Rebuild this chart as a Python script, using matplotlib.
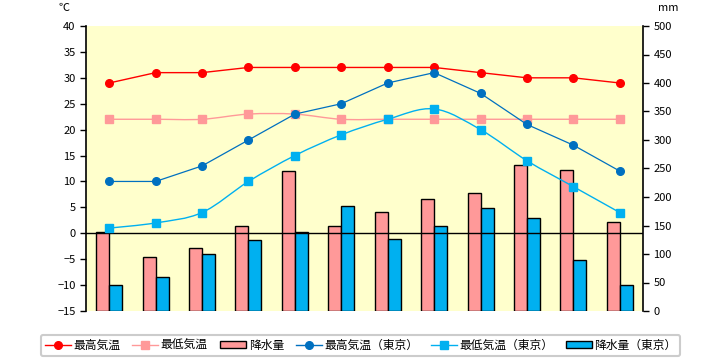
import matplotlib
matplotlib.use("Agg")
import matplotlib.pyplot as plt
import numpy as np
from matplotlib.path import Path
from matplotlib.patches import PathPatch, Patch
from matplotlib.lines import Line2D

plt.rcParams['font.family'] = ['Noto Sans CJK JP', 'DejaVu Sans']

months = ['1月', '2月', '3月', '4月', '5月', '6月', '7月', '8月', '9月', '10月', '11月', '12月']
high = [29, 31, 31, 32, 32, 32, 32, 32, 31, 30, 30, 29]
low = [22, 22, 22, 23, 23, 22, 22, 22, 22, 22, 22, 22]
rain = [138, 94, 110, 150, 245, 150, 173, 196, 207, 256, 247, 157]
tokyo_high = [10, 10, 13, 18, 23, 25, 29, 31, 27, 21, 17, 12]
tokyo_low = [1, 2, 4, 10, 15, 19, 22, 24, 20, 14, 9, 4]
tokyo_rain = [45, 59, 100, 124, 139, 185, 126, 149, 180, 164, 89, 45]

labels = ['最高気温', '最低気温', '降水量', '最高気温（東京）', '最低気温（東京）', '降水量（東京）']

C_RED = '#FF0000'
C_PINK = '#FF9999'
C_DBLUE = '#0070C0'
C_LBLUE = '#00B0F0'
BG = '#FFFFCC'

fig = plt.figure(figsize=(7.2, 3.6), dpi=100)
ax2 = fig.add_axes([86/720, 49/360, 557/720, 285/360])
ax = ax2.twinx()
ax.yaxis.tick_left()
ax2.yaxis.tick_right()
ax.set_zorder(ax2.get_zorder() + 1)
ax.patch.set_visible(False)
ax2.set_facecolor(BG)

x = np.arange(len(months))
w = 0.28
ax2.bar(x - w/2, rain, width=w, color=C_PINK, edgecolor='black', linewidth=1.0, zorder=2)
ax2.bar(x + w/2, tokyo_rain, width=w, color=C_LBLUE, edgecolor='black', linewidth=1.0, zorder=2)
ax2.set_ylim(0, 500)
ax2.set_yticks(np.arange(0, 501, 50))
ax2.set_xlim(-0.5, len(months) - 0.5)

ax.set_ylim(-15, 40)
ax.set_yticks(np.arange(-15, 41, 5))
ax.set_xlim(-0.5, len(months) - 0.5)
ax.axhline(0, color='black', linewidth=1.0, zorder=3)


def smooth_path(xs, ys, t=1/6):
    xs = np.asarray(xs, float)
    ys = np.asarray(ys, float)
    pts = np.column_stack([xs, ys])
    n = len(pts)
    verts = [pts[0]]
    codes = [Path.MOVETO]
    for i in range(n - 1):
        p0 = pts[i - 1] if i > 0 else pts[i]
        p1 = pts[i]
        p2 = pts[i + 1]
        p3 = pts[i + 2] if i + 2 < n else pts[i + 1]
        c1 = p1 + (p2 - p0) * t
        c2 = p2 - (p3 - p1) * t
        verts += [c1, c2, p2]
        codes += [Path.CURVE4] * 3
    return Path(verts, codes)


ax.plot(x, high, color=C_RED, linewidth=1.0, marker='o', markersize=5.5, zorder=5)
ax.add_patch(PathPatch(smooth_path(x, low), facecolor='none', edgecolor=C_PINK, linewidth=1.0, zorder=4))
ax.plot(x, low, linestyle='none', color=C_PINK, marker='s', markersize=5.5, zorder=5)
ax.plot(x, tokyo_high, color=C_DBLUE, linewidth=0.9, marker='o', markersize=5.5, zorder=5)
ax.add_patch(PathPatch(smooth_path(x, tokyo_low), facecolor='none', edgecolor=C_LBLUE, linewidth=1.0, zorder=4))
ax.plot(x, tokyo_low, linestyle='none', color=C_LBLUE, marker='s', markersize=5.5, zorder=5)

ax.set_xticks(x)
ax.set_xticklabels(months)
for a in (ax, ax2):
    for s in ('top', 'bottom'):
        a.spines[s].set_visible(False)
ax2.spines['left'].set_visible(False)
ax2.spines['right'].set_visible(False)
ax.spines['left'].set_linewidth(1.2)
ax.spines['right'].set_linewidth(1.2)
ax.tick_params(axis='y', direction='out', length=4, width=1, labelsize=8)
ax2.tick_params(axis='y', direction='out', length=4, width=1, labelsize=8)
ax.tick_params(axis='x', length=0, labelsize=8, pad=6)
ax2.tick_params(axis='x', length=0, labelbottom=False)

fig.text(58/720, 1 - 8/360, '℃', fontsize=8, ha='left', va='center')
fig.text(668/720, 1 - 8/360, 'mm', fontsize=8, ha='center', va='center')

handles = [
    Line2D([], [], color=C_RED, marker='o', markersize=5.5, linewidth=1.0),
    Line2D([], [], color=C_PINK, marker='s', markersize=5.5, linewidth=1.0),
    Patch(facecolor=C_PINK, edgecolor='black', linewidth=1.0),
    Line2D([], [], color=C_DBLUE, marker='o', markersize=5.5, linewidth=1.0),
    Line2D([], [], color=C_LBLUE, marker='s', markersize=5.5, linewidth=1.0),
    Patch(facecolor=C_LBLUE, edgecolor='black', linewidth=1.0),
]
leg = fig.legend(handles, labels, loc='center', bbox_to_anchor=(360.5/720, 1 - 345.5/360),
                 ncol=6, fontsize=8.5, frameon=True, fancybox=True, handlelength=2.2,
                 handletextpad=0.2, columnspacing=1.05, borderpad=0.35, handleheight=0.5)
leg.get_frame().set_edgecolor('#C0C0C0')
leg.get_frame().set_linewidth(1.5)
leg.get_frame().set_facecolor('white')

fig.savefig('out.png', dpi=100)
